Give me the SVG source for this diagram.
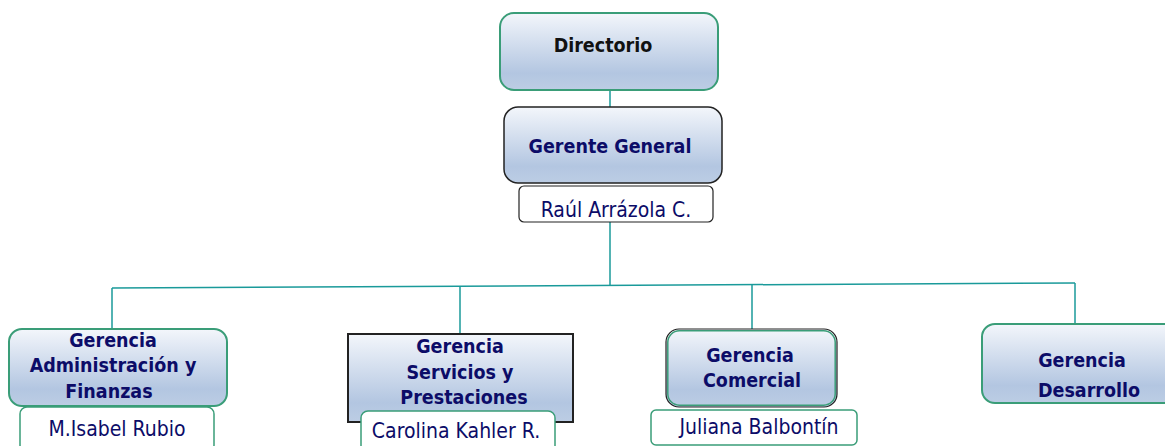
<svg xmlns="http://www.w3.org/2000/svg" width="1165" height="446" viewBox="0 0 1165 446">
<defs>
<linearGradient id="g" x1="0" y1="0" x2="0" y2="1">
<stop offset="0" stop-color="#f3f6fb"/>
<stop offset="0.78" stop-color="#b3c6e1"/>
<stop offset="1" stop-color="#bccde4"/>
</linearGradient>
<style>
.box{fill:url(#g);stroke:#3a9d78;stroke-width:2}
.dark{fill:url(#g);stroke:#222;stroke-width:1.5}
.name{fill:#fff;stroke:#3a9d78;stroke-width:1.5}
.namek{fill:#fff;stroke:#222;stroke-width:1.2}
.t{font-family:"DejaVu Sans Condensed","DejaVu Sans",Verdana,sans-serif;font-stretch:condensed;font-weight:bold;font-size:19.5px;fill:#0c0c68;text-anchor:middle}
.n{font-family:"DejaVu Sans Condensed","DejaVu Sans",Verdana,sans-serif;font-stretch:condensed;font-size:21px;fill:#0c0c68;text-anchor:middle}
.c{fill:none;stroke:#1a9a9a;stroke-width:1.5}
</style>
</defs>
<g id="connectors">
<line class="c" x1="610" y1="90" x2="610" y2="107"/>
<line class="c" x1="610" y1="222" x2="610" y2="285"/>
<line class="c" x1="112" y1="288" x2="1075" y2="283"/>
<line class="c" x1="112" y1="288" x2="112" y2="329"/>
<line class="c" x1="460" y1="286" x2="460" y2="334"/>
<line class="c" x1="752" y1="284.5" x2="752" y2="329"/>
<line class="c" x1="1075" y1="283" x2="1075" y2="324"/>
</g>
<g id="directorio">
<rect class="box" x="500" y="13" width="218" height="77" rx="14"/>
<text class="t" x="603" y="52" style="fill:#111">Directorio</text>
</g>
<g id="gerente-general">
<rect class="dark" x="504" y="107" width="218" height="76" rx="14"/>
<text class="t" x="610" y="153">Gerente General</text>
</g>
<g id="raul">
<rect class="namek" x="519" y="186" width="194" height="36" rx="5"/>
<text class="n" x="616" y="217">Raúl Arrázola C.</text>
</g>
<g id="gerencia-admin">
<rect class="box" x="9" y="329" width="218" height="77" rx="13"/>
<text class="t" x="113" y="347">Gerencia</text>
<text class="t" x="113" y="372">Administración y</text>
<text class="t" x="109" y="398">Finanzas</text>
</g>
<g id="isabel">
<rect class="name" x="20" y="407" width="194" height="45" rx="7"/>
<text class="n" x="117" y="436">M.Isabel Rubio</text>
</g>
<g id="gerencia-servicios">
<rect class="dark" x="348" y="334" width="225" height="88" style="stroke-width:2"/>
<text class="t" x="460" y="353">Gerencia</text>
<text class="t" x="460" y="379">Servicios y</text>
<text class="t" x="464" y="404">Prestaciones</text>
</g>
<g id="carolina">
<rect class="name" x="361" y="411" width="194" height="45" rx="7"/>
<text class="n" x="456" y="438">Carolina Kahler R.</text>
</g>
<g id="gerencia-comercial">
<rect x="666" y="329" width="171" height="78" rx="13" fill="url(#g)" stroke="#222" stroke-width="1.2"/>
<rect x="667.8" y="330.8" width="167.4" height="74.4" rx="11.5" fill="none" stroke="#3a9d78" stroke-width="1.5"/>
<text class="t" x="750" y="362">Gerencia</text>
<text class="t" x="752" y="387">Comercial</text>
</g>
<g id="juliana">
<rect class="name" x="651" y="410" width="206" height="35" rx="5"/>
<text class="n" x="759" y="434">Juliana Balbontín</text>
</g>
<g id="gerencia-desarrollo">
<rect class="box" x="982" y="324" width="200" height="79" rx="13"/>
<text class="t" x="1082" y="367">Gerencia</text>
<text class="t" x="1089" y="397">Desarrollo</text>
</g>
</svg>
